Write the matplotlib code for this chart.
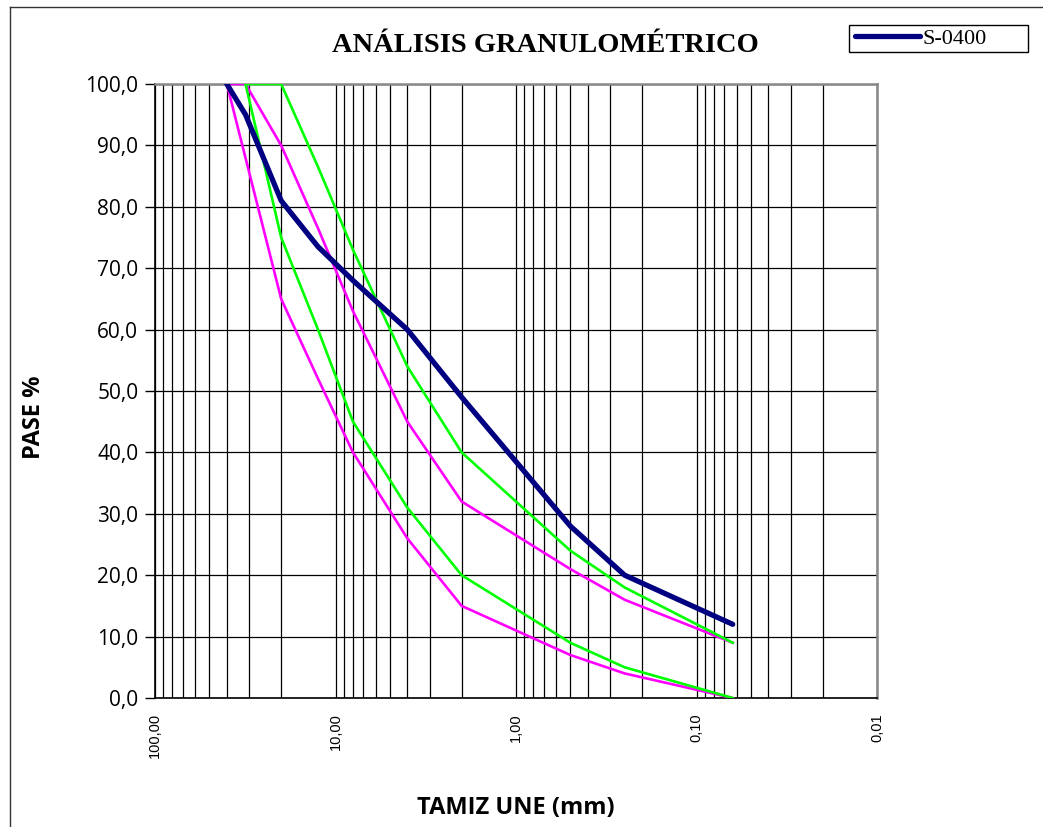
import numpy as np
import matplotlib
matplotlib.use("Agg")
import matplotlib.pyplot as plt
from matplotlib.ticker import FixedLocator, LogLocator, NullFormatter, FuncFormatter
from matplotlib.lines import Line2D
from matplotlib.patches import Rectangle

# ---- data ----
sizes_sample = [40, 31.5, 20, 12.5, 8, 4, 2, 0.5, 0.25, 0.063]
s0400 = [100, 95, 81, 73.5, 68, 60, 49, 28, 20, 12]

sizes_mag_low = [40, 20, 12.5, 8, 4, 2, 0.5, 0.25, 0.063]
mag_low = [100, 65, 52, 40, 26, 15, 7, 4, 0]
sizes_mag_up = [40, 31.5, 20, 12.5, 8, 4, 2, 0.5, 0.25, 0.063]
mag_up = [100, 100, 90, 76.5, 63, 45, 32, 21, 16, 9]

sizes_grn = [31.5, 20, 12.5, 8, 4, 2, 0.5, 0.25, 0.063]
grn_low = [100, 75, 60, 45, 31, 20, 9, 5, 0]
grn_up = [100, 100, 86.5, 73, 54, 40, 24, 18, 9]

x_ticks = [100, 10, 1, 0.1, 0.01]
x_tick_labels = ["100,00", "10,00", "1,00", "0,10", "0,01"]
y_ticks = [0, 10, 20, 30, 40, 50, 60, 70, 80, 90, 100]

W, H = 1043, 827
fig = plt.figure(figsize=(W / 100, H / 100), dpi=100)
ax = fig.add_axes([155 / W, (H - 698) / H, (877 - 155) / W, (698 - 84) / H])

ax.set_xscale("log")
ax.set_xlim(100, 0.01)
ax.set_ylim(0, 100)

ax.plot(sizes_mag_low, mag_low, color="#FF00FF", lw=1.9, zorder=3)
ax.plot(sizes_mag_up, mag_up, color="#FF00FF", lw=1.9, zorder=3)
ax.plot(sizes_grn, grn_low, color="#00FF00", lw=1.9, zorder=4)
ax.plot(sizes_grn, grn_up, color="#00FF00", lw=1.9, zorder=4)
ln, = ax.plot(sizes_sample, s0400, color="#000080", lw=3.8, zorder=5,
              solid_capstyle="round", solid_joinstyle="round", label="S-0400")

# ticks
ax.xaxis.set_major_locator(FixedLocator(x_ticks))
ax.set_xticklabels(x_tick_labels, rotation=90, fontfamily="Liberation Sans", fontsize=10.5)
ax.xaxis.set_minor_locator(LogLocator(base=10, subs=np.arange(2, 10), numticks=20))
ax.xaxis.set_minor_formatter(NullFormatter())
ax.tick_params(axis="x", which="both", length=0, pad=11)

ax.yaxis.set_major_locator(FixedLocator(y_ticks))
ax.yaxis.set_major_formatter(FuncFormatter(lambda v, p: f"{v:.1f}".replace(".", ",")))
for t in ax.get_yticklabels():
    t.set_fontfamily("Open Sans")
    t.set_fontsize(15)
ax.tick_params(axis="y", which="major", length=7, width=1, pad=5, color="black")

ax.grid(True, which="major", axis="y", color="black", lw=0.9, zorder=1)
ax.grid(True, which="both", axis="x", color="black", lw=0.9, zorder=1)
ax.set_axisbelow(True)

for side in ["left", "bottom"]:
    ax.spines[side].set_color("black")
    ax.spines[side].set_linewidth(1.2)
for side in ["top", "right"]:
    ax.spines[side].set_color("#888888")
    ax.spines[side].set_linewidth(1.8)

# labels
fig.text(545 / W, 1 - 45 / H, "ANÁLISIS GRANULOMÉTRICO", ha="center", va="center",
         fontfamily="Liberation Serif", fontweight="bold", fontsize=20.5)
fig.text(516 / W, 1 - 808 / H, "TAMIZ UNE (mm)", ha="center", va="center",
         fontfamily="Open Sans", fontweight="bold", fontsize=17)
fig.text(34 / W, 1 - 417 / H, "PASE %", ha="center", va="center", rotation=90,
         fontfamily="Open Sans", fontweight="bold", fontsize=17)

# legend
fig.patches.append(Rectangle((849 / W, 1 - 52 / H), (1028 - 849) / W, (52 - 25) / H,
                             transform=fig.transFigure, facecolor="white",
                             edgecolor="black", lw=1, zorder=1))
leg = fig.legend(handles=[ln], labels=["S-0400"], loc="center left",
                 bbox_to_anchor=(851 / W, 1 - 38.5 / H), frameon=False,
                 prop={"family": "Liberation Serif", "size": 16},
                 handlelength=2.9, handletextpad=0.12, borderpad=0.2, borderaxespad=0)
leg.set_zorder(2)

# outer frame
fig.add_artist(Line2D([10 / W, 1], [1 - 7 / H, 1 - 7 / H], transform=fig.transFigure,
                      color="#333333", lw=1))
fig.add_artist(Line2D([10 / W, 10 / W], [1 - 7 / H, 0], transform=fig.transFigure,
                      color="#333333", lw=1))

fig.savefig("out.png", dpi=100)
